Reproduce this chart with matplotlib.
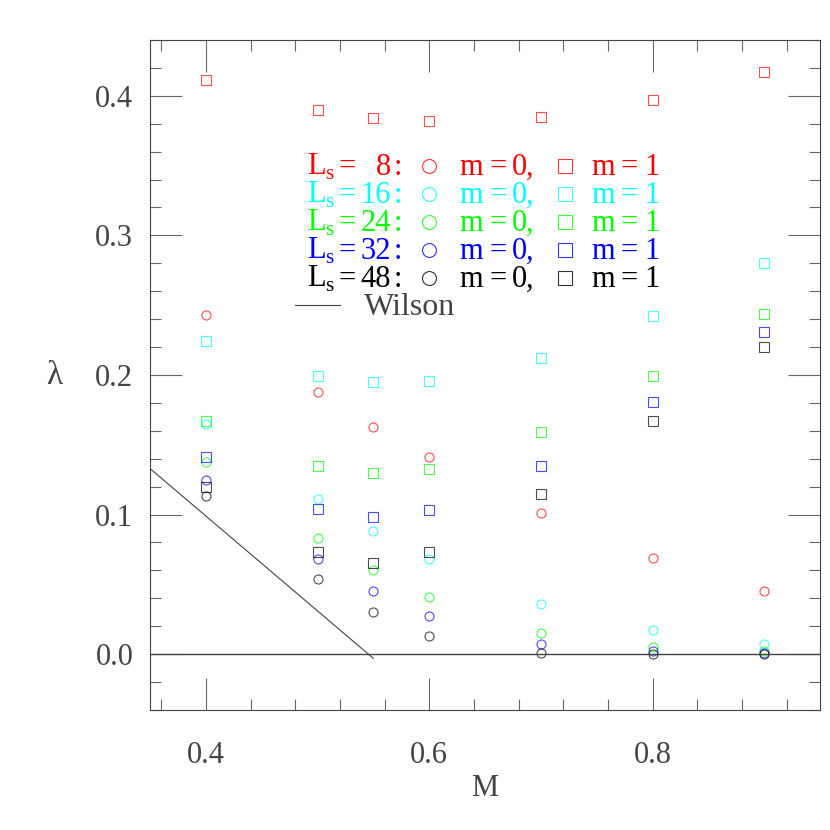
import matplotlib.pyplot as plt
from matplotlib.ticker import MultipleLocator

# masses and system sizes
M = [0.4, 0.5, 0.55, 0.6, 0.7, 0.8, 0.9]
Ls = [8, 16, 24, 32, 48]
colors = ['#ff0000', '#00ffff', '#00ff00', '#0000ff', '#000000']

# lambda for m=0 (circles), one list per Ls
lam_m0_L8 = [0.243, 0.188, 0.163, 0.141, 0.101, 0.069, 0.045]
lam_m0_L16 = [0.165, 0.111, 0.088, 0.068, 0.036, 0.017, 0.007]
lam_m0_L24 = [0.138, 0.083, 0.060, 0.041, 0.015, 0.005, 0.002]
lam_m0_L32 = [0.125, 0.068, 0.045, 0.027, 0.007, 0.002, 0.0005]
lam_m0_L48 = [0.113, 0.054, 0.030, 0.013, 0.001, 0.0, 0.0]

# lambda for m=1 (squares)
lam_m1_L8 = [0.411, 0.390, 0.384, 0.382, 0.385, 0.397, 0.417]
lam_m1_L16 = [0.224, 0.199, 0.195, 0.196, 0.212, 0.242, 0.280]
lam_m1_L24 = [0.167, 0.135, 0.130, 0.133, 0.159, 0.199, 0.244]
lam_m1_L32 = [0.141, 0.104, 0.098, 0.103, 0.135, 0.181, 0.231]
lam_m1_L48 = [0.120, 0.073, 0.065, 0.073, 0.115, 0.167, 0.220]

m0 = [lam_m0_L8, lam_m0_L16, lam_m0_L24, lam_m0_L32, lam_m0_L48]
m1 = [lam_m1_L8, lam_m1_L16, lam_m1_L24, lam_m1_L32, lam_m1_L48]

# Wilson line
wilson_M = [0.35, 0.55]
wilson_lam = [0.133, -0.003]

plt.rcParams['font.family'] = ['Liberation Serif', 'DejaVu Serif']
plt.rcParams['mathtext.fontset'] = 'custom'
plt.rcParams['mathtext.rm'] = 'Liberation Serif'

ink = '#444444'

fig = plt.figure(figsize=(8.3, 8.3), dpi=100)
ax = fig.add_axes([150 / 830, 120 / 830, 670 / 830, 670 / 830])

for c, y0, y1 in zip(colors, m0, m1):
    ax.plot(M, y0, ls='none', marker='o', ms=6.5, mfc='none', mec=c, mew=0.8, alpha=0.7)
    ax.plot(M, y1, ls='none', marker='s', ms=6.5, mfc='none', mec=c, mew=0.8, alpha=0.7)

ax.plot(wilson_M, wilson_lam, color=ink, lw=0.8)
ax.axhline(0, color=ink, lw=1)

ax.set_xlim(0.35, 0.95)
ax.set_ylim(-0.04, 0.44)

# ticks inward on all four sides
ax.xaxis.set_major_locator(MultipleLocator(0.2))
ax.xaxis.set_minor_locator(MultipleLocator(0.04))
ax.yaxis.set_major_locator(MultipleLocator(0.1))
ax.yaxis.set_minor_locator(MultipleLocator(0.02))
ax.tick_params(which='both', direction='in', top=True, right=True, color='#666666', width=0.8)
ax.tick_params(which='major', length=23)
ax.tick_params(which='minor', length=8)
ax.tick_params(axis='x', which='major', pad=22, labelsize=22, labelcolor=ink)
ax.tick_params(axis='y', which='major', pad=12, labelsize=22, labelcolor=ink)
ax.xaxis.set_major_formatter(lambda v, p: '%.1f' % v)
ax.yaxis.set_major_formatter(lambda v, p: '%.1f' % v)
for s in ax.spines.values():
    s.set_color(ink)
    s.set_linewidth(0.8)


# pixel positions -> axes fraction
def fx(px):
    return (px - 150) / 670


def fy(py):
    return (710 - py) / 670


# axis labels placed by hand
ax.text(fx(485), fy(796), 'M', transform=ax.transAxes, fontsize=22, color=ink,
        ha='center', va='baseline')
ax.text(fx(54), fy(376), 'λ', transform=ax.transAxes, fontsize=24, color=ink,
        ha='center', va='center')

# legend written by hand, one glyph group at a time
for i, (L, c) in enumerate(zip(Ls, colors)):
    base = fy(175 + 28 * i)
    mid = fy(166 + 28 * i)
    kw = dict(transform=ax.transAxes, color=c, fontsize=22, va='baseline')
    ax.text(fx(307), base, r'L$_{\rm s}$', ha='left', **kw)
    ax.text(fx(347), base, '=', ha='center', **kw)
    ax.text(fx(391), base, '%d' % L, ha='right', **kw)
    ax.text(fx(398), base, ':', ha='center', **kw)
    ax.text(fx(471), base, 'm', ha='center', **kw)
    ax.text(fx(498), base, '=', ha='center', **kw)
    ax.text(fx(519), base, '0', ha='center', **kw)
    ax.text(fx(530), base, ',', ha='center', **kw)
    ax.text(fx(603), base, 'm', ha='center', **kw)
    ax.text(fx(629), base, '=', ha='center', **kw)
    ax.text(fx(652), base, '1', ha='center', **kw)
    ax.plot([fx(429)], [mid], transform=ax.transAxes, marker='o', ms=10,
            mfc='none', mec=c, mew=0.8, alpha=0.8)
    ax.plot([fx(565)], [mid], transform=ax.transAxes, marker='s', ms=9.5,
            mfc='none', mec=c, mew=0.8, alpha=0.8)

ax.plot([fx(295), fx(340)], [fy(305), fy(305)], transform=ax.transAxes, color=ink, lw=0.8)
ax.text(fx(364), fy(315), 'Wilson', transform=ax.transAxes, color=ink, fontsize=23,
        ha='left', va='baseline')

plt.savefig('out.png', dpi=100)
